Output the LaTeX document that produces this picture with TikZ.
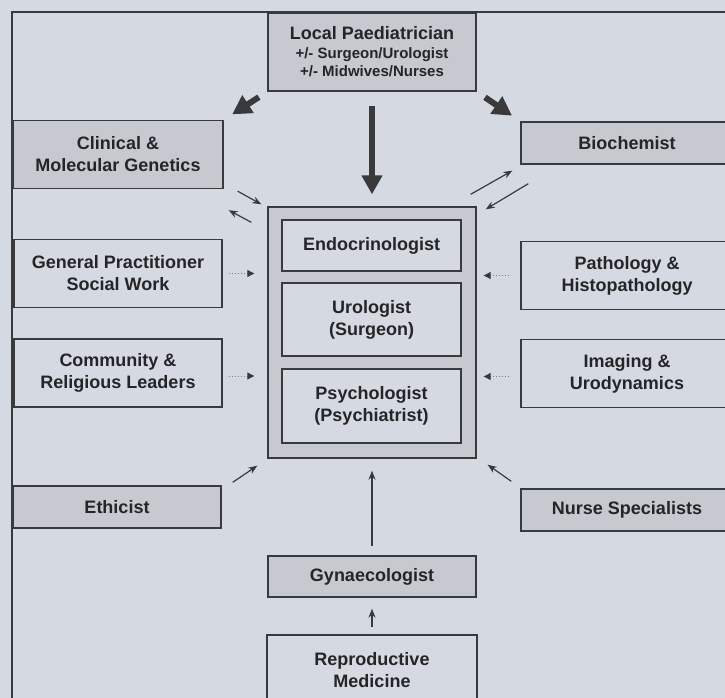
\documentclass[tikz,border=0pt]{standalone}
\usepackage{fontspec}
\setmainfont{Liberation Sans}
\usetikzlibrary{arrows.meta,positioning,calc}
\definecolor{mdpaper}{HTML}{D5DAE2}
\definecolor{mdshade}{HTML}{C6C9CF}
\definecolor{mdline}{HTML}{3A3A3C}
\definecolor{mdink}{HTML}{252527}
\definecolor{mddots}{HTML}{808286}
\newcommand\mdsub{\fontsize{15}{18}\selectfont}
\tikzset{
  plainbox/.style={rectangle,draw=mdline,line width=1.4pt,fill=mdpaper,
                   minimum width=209pt,inner sep=0pt,align=center,
                   font=\fontsize{18}{22}\selectfont\bfseries,text=mdink},
  shadebox/.style={plainbox,fill=mdshade},
  tallbox/.style={minimum height=68pt},
  flatbox/.style={minimum height=42pt},
  corebox/.style={shadebox,minimum width=208pt,minimum height=251pt},
  innerbox/.style={plainbox,minimum width=179pt},
  thinarrow/.style={draw=mdline,line width=1.2pt,-{Stealth[length=9pt,width=7pt]}},
  thickarrow/.style={draw=mdline,line width=6pt,-{Triangle[length=19pt,width=20pt]}},
  dotarrow/.style={draw=mddots,line width=1pt,dash pattern=on 1.5pt off 1.5pt,
                   -{Triangle[length=7pt,width=7pt,color=mdline]}},
}
\begin{document}
\begin{tikzpicture}[x=1pt,y=-1pt]
  \useasboundingbox (0,0) rectangle (725,698);
  \fill[mdpaper] (0,0) rectangle (725,698);
  \draw[mdline,line width=1.3pt] (12,12) rectangle (745,720);
  % top and the core team
  \node[shadebox,minimum width=208pt,minimum height=78pt] (paed) at (372,52)
    {Local Paediatrician\\[-3pt]{\mdsub +/- Surgeon/Urologist}\\[-4pt]{\mdsub +/- Midwives/Nurses}};
  \node[corebox] (core) at (372,332.5) {};
  \node[innerbox,minimum height=51pt] (endo) at (371.5,245.5) {Endocrinologist};
  \node[innerbox,minimum height=73pt] (uro) at (371.5,319.5) {Urologist\\(Surgeon)};
  \node[innerbox,minimum height=74pt] (psych) at (371.5,406) {Psychologist\\(Psychiatrist)};
  % left column
  \node[shadebox,tallbox,minimum width=210pt] (genetics) at (118,154.5) {Clinical \&\\Molecular Genetics};
  \node[plainbox,tallbox,minimum width=208pt] (gp) at (118,273.5) {General Practitioner\\Social Work};
  \node[plainbox,tallbox,minimum width=208pt] (community) at (118,373) {Community \&\\Religious Leaders};
  \node[shadebox,flatbox,minimum width=208pt] (ethicist) at (117,507) {Ethicist};
  % right column
  \node[shadebox,flatbox,minimum width=212pt] (biochem) at (627,143) {Biochemist};
  \node[plainbox,tallbox,minimum width=212pt] (patho) at (627,275.5) {Pathology \&\\Histopathology};
  \node[plainbox,tallbox,minimum width=212pt] (imaging) at (627,373.5) {Imaging \&\\Urodynamics};
  \node[shadebox,flatbox,minimum width=212pt] (nurse) at (627,510) {Nurse Specialists};
  % bottom
  \node[shadebox,minimum width=208pt,minimum height=41pt] (gyn) at (372,576.5) {Gynaecologist};
  \node[plainbox,minimum width=210pt,minimum height=70pt] (repro) at (372,670) {Reproductive\\Medicine};
  % referrals from the paediatrician
  \draw[thickarrow,shorten <=14pt,shorten >=12pt] (paed.south) -- (core.north);
  \draw[thickarrow,shorten <=10pt,shorten >=10pt] (paed.south west) -- (genetics.north east);
  \draw[thickarrow,shorten <=10pt,shorten >=10pt] (paed.south east) -- (biochem.north west);
  % two-way links
  \draw[thinarrow] ($(genetics.south east)+(14,2)$) -- ($(core.north west)+(-6,-2)$);
  \draw[thinarrow] ($(core.north west)+(-16,16)$) -- ($(genetics.south east)+(5,21)$);
  \draw[thinarrow] ($(core.north east)+(-6,-12)$) -- ($(biochem.south west)+(-8,6)$);
  \draw[thinarrow] ($(biochem.south west)+(8,19)$) -- ($(core.north east)+(9,3)$);
  % dotted inputs
  \draw[dotarrow,shorten <=6pt,shorten >=13pt] (gp.east) -- (gp.east -| core.west);
  \draw[dotarrow,shorten <=6pt,shorten >=13pt] ($(community.east)+(0,3)$) -- ($(community.east -| core.west)+(0,3)$);
  \draw[dotarrow,shorten <=11pt,shorten >=7pt] (patho.west) -- (patho.west -| core.east);
  \draw[dotarrow,shorten <=11pt,shorten >=7pt] ($(imaging.west)+(0,3)$) -- ($(imaging.west -| core.east)+(0,3)$);
  % lower inputs
  \draw[thinarrow] ($(ethicist.north east)+(11,-3)$) -- ($(core.south west)+(-10,7)$);
  \draw[thinarrow] ($(nurse.north west)+(-9,-7)$) -- ($(core.south east)+(11,6)$);
  \draw[thinarrow,shorten <=9pt,shorten >=12pt] (gyn.north) -- (core.south);
  \draw[thinarrow,shorten <=7pt,shorten >=11pt] (repro.north) -- (gyn.south);
\end{tikzpicture}
\end{document}
